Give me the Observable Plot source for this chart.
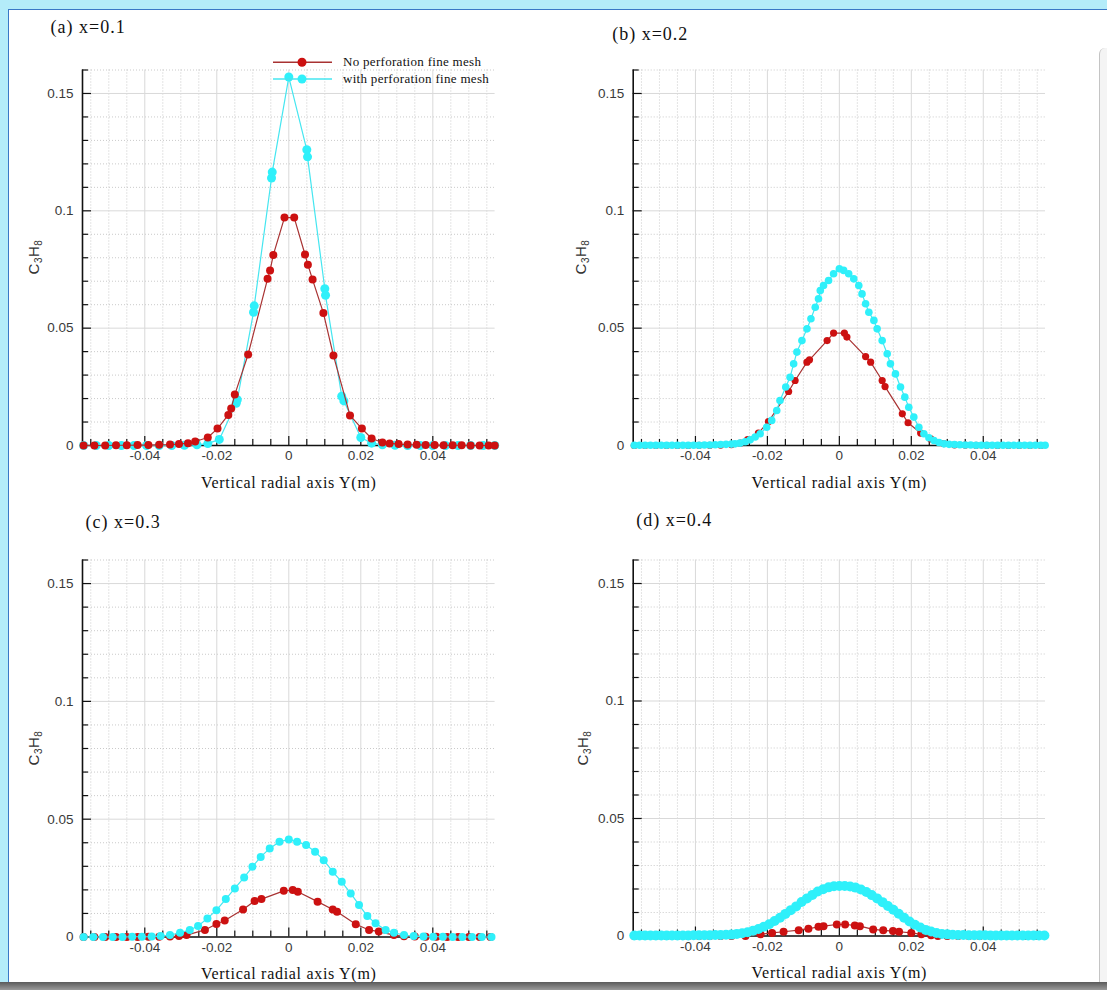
<!DOCTYPE html>
<html><head><meta charset="utf-8">
<script src="https://cdn.jsdelivr.net/npm/d3@7"></script>
<script src="https://cdn.jsdelivr.net/npm/@observablehq/plot@0.6"></script>
<style>
html,body{margin:0;padding:0;}
body{width:1107px;height:990px;background:#b4ecf9;overflow:hidden;position:relative;font-family:"Liberation Sans",Arial,sans-serif;}
#sheet{position:absolute;left:8px;top:9px;width:1099px;height:973px;background:#fff;border-left:1.5px solid #3a78c6;border-top:1.5px solid #3a78c6;box-sizing:border-box;}
#rightedge{position:absolute;left:1099px;top:48px;width:8px;height:934px;background:#f4f4f4;border-left:1.5px solid #c4c4c4;border-top-left-radius:6px;box-sizing:border-box;}
#bottombar{position:absolute;left:0;top:982px;width:1107px;height:8px;background:linear-gradient(#5a5a5a,#9a9a9a);}
.panel{position:absolute;}
.ylab{position:absolute;font-family:"Liberation Sans",Arial,sans-serif;font-size:15px;color:#333;transform:translate(-50%,-50%) rotate(-90deg);white-space:nowrap;letter-spacing:0.5px;}
.ylab sub{font-size:10px;vertical-align:-3px;}
#legend{position:absolute;left:265px;top:50px;}
</style>
</head><body>
<div id="sheet"></div>
<div id="rightedge"></div>
<div id="bottombar"></div>
<div id="charts"></div>
<script>
// ---------- tick values / labels ----------
const xMajor = [-0.04, -0.02, 0, 0.02, 0.04];
const xTickLabels = ["-0.04", "-0.02", "0", "0.02", "0.04"];
const xMinor = [-0.055, -0.05, -0.045, -0.035, -0.03, -0.025, -0.015, -0.01, -0.005, 0.005, 0.01, 0.015, 0.025, 0.03, 0.035, 0.045, 0.05, 0.055];
const yMajor = [0, 0.05, 0.1, 0.15];
const yTickLabels = ["0", "0.05", "0.1", "0.15"];
const yMinor = [0.01, 0.02, 0.03, 0.04, 0.06, 0.07, 0.08, 0.09, 0.11, 0.12, 0.13, 0.14, 0.16];
const xDomain = [-0.0573, 0.0573];
const yDomain = [0, 0.16];

const seriesNames = ["No perforation fine mesh", "with perforation fine mesh"];
const panelTitles = ["(a) x=0.1", "(b) x=0.2", "(c) x=0.3", "(d) x=0.4"];
const xLabel = "Vertical radial axis Y(m)";

// ---------- data: [Y (m), C3H8] ----------
const redA = [[-0.0570,0],[-0.0540,0],[-0.0510,0],[-0.0480,0.0001],[-0.0450,0.0001],[-0.0420,0.0002],[-0.0390,0.0002],[-0.0360,0.0003],[-0.0330,0.0004],[-0.0305,0.0006],[-0.0280,0.0010],[-0.0260,0.0017],[-0.0225,0.0034],[-0.0198,0.0072],[-0.0168,0.0130],[-0.0160,0.0158],[-0.0150,0.0217],[-0.0113,0.0388],[-0.0059,0.0710],[-0.0052,0.0746],[-0.0043,0.0812],[-0.0012,0.0971],[0.0015,0.0971],[0.0045,0.0814],[0.0053,0.0770],[0.0066,0.0707],[0.0096,0.0565],[0.0124,0.0383],[0.0170,0.0128],[0.0203,0.0072],[0.0230,0.0030],[0.0260,0.0013],[0.0280,0.0009],[0.0305,0.0006],[0.0330,0.0004],[0.0355,0.0003],[0.0380,0.0002],[0.0405,0.0002],[0.0430,0.0001],[0.0455,0.0001],[0.0480,0.0001],[0.0505,0],[0.0530,0],[0.0555,0],[0.0572,0]];
const cyanA = [[-0.0570,0],[-0.0535,0],[-0.0500,0],[-0.0465,0],[-0.0430,0],[-0.0395,0],[-0.0360,0],[-0.0325,0],[-0.0290,0.0001],[-0.0255,0.0003],[-0.0225,0.0008],[-0.0193,0.0026],[-0.0146,0.0180],[-0.0143,0.0195],[-0.0098,0.0568],[-0.0096,0.0595],[-0.0048,0.1140],[-0.0046,0.1165],[0.0000,0.1570],[0.0050,0.1260],[0.0052,0.1230],[0.0100,0.0668],[0.0102,0.0640],[0.0147,0.0210],[0.0153,0.0190],[0.0200,0.0034],[0.0230,0.0010],[0.0260,0.0003],[0.0295,0.0001],[0.0330,0],[0.0365,0],[0.0400,0],[0.0435,0],[0.0470,0],[0.0505,0],[0.0540,0],[0.0572,0]];

const redB = [[-0.0570,0],[-0.0540,0],[-0.0510,0],[-0.0480,0],[-0.0450,0],[-0.0420,0],[-0.0390,0.0001],[-0.0360,0.0001],[-0.0330,0.0002],[-0.0300,0.0004],[-0.0275,0.0010],[-0.0255,0.0025],[-0.0225,0.0053],[-0.0197,0.0102],[-0.0141,0.0230],[-0.0123,0.0277],[-0.0090,0.0355],[-0.0083,0.0365],[-0.0034,0.0447],[-0.0016,0.0479],[0.0014,0.0479],[0.0021,0.0462],[0.0073,0.0379],[0.0087,0.0355],[0.0119,0.0277],[0.0127,0.0251],[0.0175,0.0135],[0.0191,0.0097],[0.0226,0.0053],[0.0254,0.0028],[0.0290,0.0008],[0.0320,0.0003],[0.0350,0.0002],[0.0380,0.0001],[0.0410,0.0001],[0.0440,0],[0.0470,0],[0.0500,0],[0.0530,0],[0.0560,0]];
const cyanB = [[-0.0570,0.0001],[-0.0555,0.0001],[-0.0540,0.0001],[-0.0525,0.0001],[-0.0510,0.0001],[-0.0495,0.0001],[-0.0480,0.0001],[-0.0465,0.0001],[-0.0450,0.0001],[-0.0435,0.0001],[-0.0420,0.0001],[-0.0405,0.0001],[-0.0390,0.0001],[-0.0375,0.0002],[-0.0360,0.0002],[-0.0345,0.0003],[-0.0330,0.0004],[-0.0315,0.0005],[-0.0300,0.0006],[-0.0290,0.0007],[-0.0276,0.0010],[-0.0262,0.0016],[-0.0248,0.0024],[-0.0234,0.0036],[-0.0220,0.0050],[-0.0202,0.0078],[-0.0188,0.0107],[-0.0174,0.0149],[-0.0165,0.0192],[-0.0149,0.0249],[-0.0137,0.0291],[-0.0127,0.0348],[-0.0118,0.0398],[-0.0104,0.0447],[-0.0090,0.0497],[-0.0079,0.0540],[-0.0067,0.0589],[-0.0058,0.0625],[-0.0053,0.0660],[-0.0044,0.0682],[-0.0030,0.0703],[-0.0016,0.0732],[0.0000,0.0753],[0.0012,0.0746],[0.0026,0.0732],[0.0040,0.0710],[0.0054,0.0682],[0.0063,0.0646],[0.0073,0.0604],[0.0082,0.0568],[0.0096,0.0533],[0.0105,0.0497],[0.0119,0.0447],[0.0133,0.0391],[0.0142,0.0348],[0.0156,0.0305],[0.0170,0.0249],[0.0182,0.0206],[0.0193,0.0163],[0.0207,0.0121],[0.0221,0.0078],[0.0235,0.0050],[0.0249,0.0033],[0.0263,0.0021],[0.0277,0.0013],[0.0291,0.0007],[0.0305,0.0005],[0.0320,0.0004],[0.0335,0.0003],[0.0350,0.0002],[0.0365,0.0002],[0.0380,0.0001],[0.0395,0.0001],[0.0410,0.0001],[0.0425,0.0001],[0.0440,0.0001],[0.0455,0.0001],[0.0470,0.0001],[0.0485,0.0001],[0.0500,0.0001],[0.0515,0.0001],[0.0530,0.0001],[0.0545,0.0001],[0.0560,0.0001],[0.0572,0.0001]];

const redC = [[-0.0570,0],[-0.0540,0],[-0.0510,0],[-0.0480,0],[-0.0450,0],[-0.0420,0],[-0.0390,0.0001],[-0.0360,0.0001],[-0.0330,0.0002],[-0.0305,0.0004],[-0.0284,0.0008],[-0.0233,0.0030],[-0.0201,0.0055],[-0.0178,0.0070],[-0.0127,0.0117],[-0.0095,0.0153],[-0.0076,0.0161],[-0.0014,0.0196],[0.0011,0.0199],[0.0025,0.0192],[0.0080,0.0150],[0.0122,0.0117],[0.0134,0.0107],[0.0186,0.0054],[0.0223,0.0030],[0.0250,0.0023],[0.0292,0.0008],[0.0320,0.0003],[0.0350,0.0002],[0.0380,0.0001],[0.0410,0.0001],[0.0440,0],[0.0470,0],[0.0500,0],[0.0530,0],[0.0560,0]];
const cyanC = [[-0.0570,0],[-0.0543,0],[-0.0516,0],[-0.0489,0],[-0.0462,0],[-0.0435,0.0001],[-0.0408,0.0001],[-0.0381,0.0002],[-0.0356,0.0004],[-0.0330,0.0008],[-0.0302,0.0018],[-0.0275,0.0030],[-0.0252,0.0047],[-0.0226,0.0079],[-0.0201,0.0114],[-0.0175,0.0161],[-0.0150,0.0206],[-0.0124,0.0253],[-0.0101,0.0298],[-0.0078,0.0340],[-0.0053,0.0376],[-0.0026,0.0404],[0.0000,0.0414],[0.0023,0.0404],[0.0048,0.0390],[0.0073,0.0362],[0.0097,0.0326],[0.0122,0.0277],[0.0147,0.0234],[0.0172,0.0185],[0.0195,0.0136],[0.0218,0.0089],[0.0241,0.0058],[0.0269,0.0030],[0.0292,0.0018],[0.0320,0.0008],[0.0347,0.0004],[0.0374,0.0002],[0.0401,0.0001],[0.0428,0.0001],[0.0455,0],[0.0482,0],[0.0509,0],[0.0536,0],[0.0563,0]];

const redD = [[-0.0570,0],[-0.0540,0],[-0.0510,0],[-0.0480,0],[-0.0450,0],[-0.0420,0],[-0.0390,0],[-0.0360,0],[-0.0330,0],[-0.0300,0],[-0.0261,0],[-0.0219,0.0007],[-0.0187,0.0013],[-0.0155,0.0018],[-0.0113,0.0025],[-0.0086,0.0031],[-0.0058,0.0039],[-0.0044,0.0042],[-0.0007,0.0049],[0.0016,0.0049],[0.0043,0.0045],[0.0057,0.0042],[0.0094,0.0028],[0.0122,0.0024],[0.0149,0.0021],[0.0166,0.0018],[0.0200,0.0013],[0.0228,0.0007],[0.0255,0.0003],[0.0274,0],[0.0300,0],[0.0330,0],[0.0360,0],[0.0390,0],[0.0420,0],[0.0450,0],[0.0480,0],[0.0518,0],[0.0550,0]];
const cyanD = [[-0.0570,0.0002],[-0.0555,0.0002],[-0.0540,0.0002],[-0.0525,0.0002],[-0.0510,0.0002],[-0.0495,0.0002],[-0.0480,0.0002],[-0.0465,0.0002],[-0.0450,0.0002],[-0.0435,0.0002],[-0.0420,0.0002],[-0.0405,0.0003],[-0.0390,0.0003],[-0.0375,0.0003],[-0.0360,0.0003],[-0.0345,0.0004],[-0.0330,0.0004],[-0.0315,0.0005],[-0.0300,0.0006],[-0.0285,0.0009],[-0.0270,0.0012],[-0.0255,0.0016],[-0.0240,0.0022],[-0.0225,0.0030],[-0.0210,0.0039],[-0.0195,0.0050],[-0.0180,0.0064],[-0.0165,0.0078],[-0.0150,0.0094],[-0.0135,0.0110],[-0.0120,0.0126],[-0.0105,0.0145],[-0.0090,0.0160],[-0.0075,0.0175],[-0.0060,0.0189],[-0.0045,0.0199],[-0.0030,0.0207],[-0.0015,0.0212],[0.0000,0.0213],[0.0015,0.0213],[0.0030,0.0211],[0.0045,0.0206],[0.0060,0.0198],[0.0075,0.0187],[0.0090,0.0174],[0.0105,0.0160],[0.0120,0.0144],[0.0135,0.0128],[0.0150,0.0112],[0.0165,0.0095],[0.0180,0.0078],[0.0195,0.0062],[0.0210,0.0048],[0.0225,0.0036],[0.0240,0.0026],[0.0255,0.0019],[0.0270,0.0013],[0.0285,0.0009],[0.0300,0.0007],[0.0315,0.0005],[0.0330,0.0004],[0.0345,0.0004],[0.0360,0.0003],[0.0375,0.0003],[0.0390,0.0003],[0.0405,0.0003],[0.0420,0.0002],[0.0435,0.0002],[0.0450,0.0002],[0.0465,0.0002],[0.0480,0.0002],[0.0495,0.0002],[0.0510,0.0002],[0.0525,0.0002],[0.0540,0.0002],[0.0555,0.0002],[0.0570,0.0002]];

// ---------- styles ----------
const RED = "#cc1111", RED_LINE = "#a83232", CYAN = "#2ff0fa", CYAN_LINE = "#45e6f0";
const SERIF = "'Liberation Serif', 'Times New Roman', serif";

const panels = [
  {title: panelTitles[0], red: redA, cyan: cyanA, left: 0, top: 0, ml: 82, mr: 58.4, mt: 69.5, mb: 55, rr: 4, rc: 4.5, redTop: true, tdx: -32, tdy: -42.5, ylx: 34, yly: 257},
  {title: panelTitles[1], red: redB, cyan: cyanB, left: 553, top: 0, ml: 79.7, mr: 61, mt: 69.5, mb: 55, rr: 3.6, rc: 3.8, redTop: false, tdx: -21, tdy: -35.5, ylx: 581, yly: 257},
  {title: panelTitles[2], red: redC, cyan: cyanC, left: 0, top: 490, ml: 82, mr: 58.4, mt: 69.5, mb: 53.5, rr: 4, rc: 4, redTop: false, tdx: 3, tdy: -38, ylx: 34, yly: 748},
  {title: panelTitles[3], red: redD, cyan: cyanD, left: 553, top: 490, ml: 79.7, mr: 61, mt: 69.5, mb: 54.5, rr: 4, rc: 5, redTop: false, tdx: 3, tdy: -39.5, ylx: 583, yly: 748}
];

const W = 553, H = 500;
const charts = document.getElementById("charts");

for (const p of panels) {
  const fw = W - p.ml - p.mr, fh = H - p.mt - p.mb;
  const redMarks = [
    Plot.line(p.red, {x: d => d[0], y: d => d[1], stroke: RED_LINE, strokeWidth: 1.2}),
    Plot.dot(p.red, {x: d => d[0], y: d => d[1], r: p.rr, fill: RED, stroke: "none"})
  ];
  const cyanMarks = [
    Plot.line(p.cyan, {x: d => d[0], y: d => d[1], stroke: CYAN_LINE, strokeWidth: 1.2}),
    Plot.dot(p.cyan, {x: d => d[0], y: d => d[1], r: p.rc, fill: CYAN, stroke: "none"})
  ];
  const chart = Plot.plot({
    width: W, height: H,
    marginLeft: p.ml, marginRight: p.mr, marginTop: p.mt, marginBottom: p.mb,
    x: {domain: xDomain},
    y: {domain: yDomain},
    style: {background: "transparent", fontFamily: "'Liberation Sans', Arial, sans-serif", fontSize: "13.5px", color: "#3a3a3a", overflow: "visible"},
    marks: [
      // grid
      Plot.ruleX(xMinor, {x: d => d, stroke: "#bdbdbd", strokeDasharray: "1,2", strokeWidth: 0.8}),
      Plot.ruleY(yMinor, {y: d => d, stroke: "#bdbdbd", strokeDasharray: "1,2", strokeWidth: 0.8}),
      Plot.ruleX(xMajor, {x: d => d, stroke: "#d9d9d9", strokeWidth: 1}),
      Plot.ruleY(yMajor, {y: d => d, stroke: "#d9d9d9", strokeWidth: 1}),
      // tick labels
      Plot.axisX(xMajor, {tickSize: 0, tickPadding: 5, tickFormat: d => xTickLabels[xMajor.indexOf(d)], label: null, fontSize: 13.5}),
      Plot.axisY(yMajor, {tickSize: 0, tickPadding: 9, tickFormat: d => yTickLabels[yMajor.indexOf(d)], label: null, fontSize: 13.5}),
      // inward ticks
      Plot.tickX(xMajor, {x: d => d, insetTop: fh - 9, stroke: "#111", strokeWidth: 1.2}),
      Plot.tickX(xMinor, {x: d => d, insetTop: fh - 6, stroke: "#111", strokeWidth: 1.2}),
      Plot.tickY(yMajor, {y: d => d, insetRight: fw - 9, stroke: "#111", strokeWidth: 1.2}),
      Plot.tickY(yMinor, {y: d => d, insetRight: fw - 6, stroke: "#111", strokeWidth: 1.2}),
      // axis lines
      Plot.ruleX([xDomain[0]], {stroke: "#111", strokeWidth: 1.6}),
      Plot.ruleY([yDomain[0]], {stroke: "#111", strokeWidth: 1.6}),
      // data
      ...(p.redTop ? [...cyanMarks, ...redMarks] : [...redMarks, ...cyanMarks]),
      // title & x label
      Plot.text([p.title], {frameAnchor: "top-left", text: d => d, dx: p.tdx, dy: p.tdy, lineAnchor: "middle", textAnchor: "start", fontFamily: SERIF, fontSize: 18, fill: "#111"}),
      Plot.text([xLabel], {frameAnchor: "bottom", text: d => d, dy: 37, lineAnchor: "middle", textAnchor: "middle", fontFamily: SERIF, fontSize: 16, fill: "#111"})
    ]
  });
  // letter spacing for the serif texts (as in the reference rendering)
  chart.querySelectorAll("text").forEach(t => {
    if (t.textContent === xLabel) t.setAttribute("letter-spacing", "0.7");
    if (t.textContent === p.title) t.setAttribute("letter-spacing", "1");
  });
  const wrap = document.createElement("div");
  wrap.className = "panel";
  wrap.style.left = p.left + "px";
  wrap.style.top = p.top + "px";
  wrap.appendChild(chart);
  charts.appendChild(wrap);

  const yl = document.createElement("div");
  yl.className = "ylab";
  yl.style.left = p.ylx + "px";
  yl.style.top = p.yly + "px";
  yl.innerHTML = "C<sub>3</sub>H<sub>8</sub>";
  charts.appendChild(yl);
}

// ---------- legend (panel a) ----------
const leg = document.createElementNS("http://www.w3.org/2000/svg", "svg");
leg.setAttribute("width", 270); leg.setAttribute("height", 40);
leg.id = "legend";
const legendItems = [{name: seriesNames[0], line: RED_LINE, fill: RED, y: 12.3}, {name: seriesNames[1], line: CYAN_LINE, fill: CYAN, y: 29}];
for (const it of legendItems) {
  leg.insertAdjacentHTML("beforeend",
    `<line x1="8" x2="67" y1="${it.y}" y2="${it.y}" stroke="${it.line}" stroke-width="1.5"/>` +
    `<circle cx="37" cy="${it.y}" r="4.5" fill="${it.fill}"/>` +
    `<text x="78" y="${it.y}" dy="0.32em" font-family="'Liberation Serif','Times New Roman',serif" font-size="13" letter-spacing="0.3" fill="#111">${it.name}</text>`);
}
charts.appendChild(leg);
</script>
</body></html>
